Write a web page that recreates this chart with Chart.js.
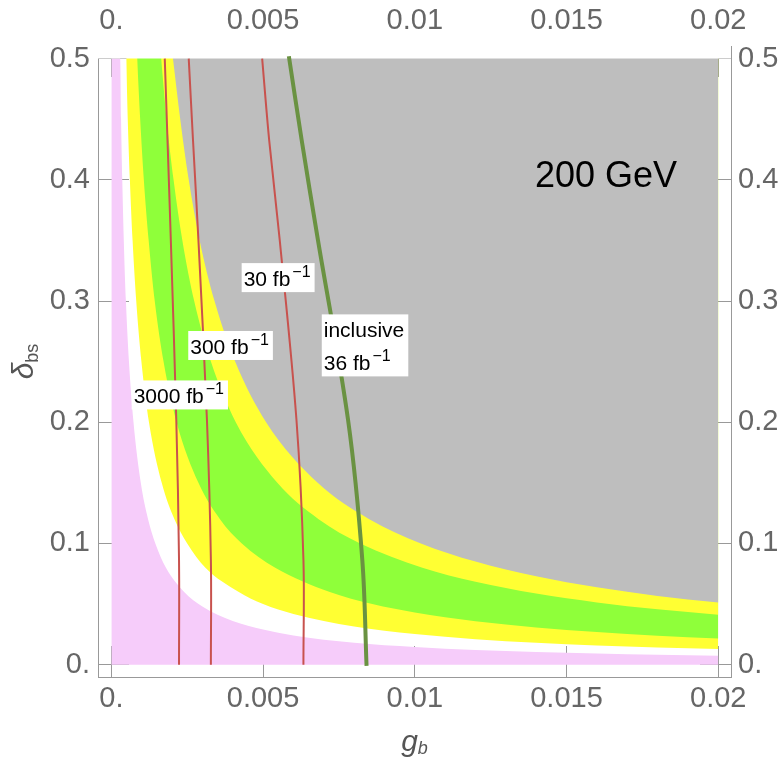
<!DOCTYPE html>
<html>
<head>
<meta charset="utf-8">
<script src="https://cdn.jsdelivr.net/npm/chart.js@4.4.1/dist/chart.umd.min.js"></script>
<style>
  html, body { margin: 0; padding: 0; background: #fff; }
  canvas { display: block; }
</style>
</head>
<body>
<canvas id="chart" width="784" height="764"></canvas>
<script>
// tick values and labels
var gTicks = [0, 0.005, 0.01, 0.015, 0.02];
var gTickLabels = ['0.', '0.005', '0.01', '0.015', '0.02'];
var dTicks = [0, 0.1, 0.2, 0.3, 0.4, 0.5];
var dTickLabels = ['0.', '0.1', '0.2', '0.3', '0.4', '0.5'];

// region edges, [g_b, delta_bs]
var pinkEdge = [[0, 0.5], [0.00029, 0.5], [0.00032, 0.45], [0.00036, 0.4], [0.00041, 0.35], [0.00048, 0.3],
  [0.00058, 0.25], [0.00073, 0.2], [0.00097, 0.15], [0.00121, 0.12], [0.00145, 0.1], [0.0018, 0.08],
  [0.0024, 0.06], [0.003, 0.048], [0.004, 0.036], [0.005, 0.029], [0.006, 0.024], [0.008, 0.018],
  [0.01, 0.0145], [0.012, 0.012], [0.014, 0.0104], [0.016, 0.0091], [0.018, 0.0081], [0.02, 0.0073]];
var yellowLowEdge = [[0.00049, 0.5], [0.00054, 0.45], [0.00061, 0.4], [0.0007, 0.35], [0.00082, 0.3],
  [0.00099, 0.25], [0.00124, 0.2], [0.00166, 0.15], [0.00208, 0.12], [0.0025, 0.1], [0.0031, 0.08],
  [0.0042, 0.06], [0.005, 0.05], [0.006, 0.0418], [0.008, 0.0314], [0.01, 0.0252], [0.012, 0.021],
  [0.014, 0.018], [0.016, 0.0158], [0.018, 0.0141], [0.02, 0.0128]];
var greenLowEdge = [[0.00085, 0.5], [0.00095, 0.45], [0.00107, 0.4], [0.00123, 0.35], [0.00143, 0.3],
  [0.00172, 0.25], [0.00215, 0.2], [0.00287, 0.15], [0.00358, 0.12], [0.0043, 0.1], [0.0054, 0.08],
  [0.0072, 0.06], [0.0086, 0.05], [0.01, 0.043], [0.012, 0.0358], [0.014, 0.0307], [0.016, 0.0269],
  [0.018, 0.0239], [0.02, 0.0216]];
var greenHighEdge = [[0.00164, 0.5], [0.00182, 0.45], [0.00205, 0.4], [0.00234, 0.35], [0.00273, 0.3],
  [0.00328, 0.25], [0.0041, 0.2], [0.00547, 0.15], [0.00683, 0.12], [0.0082, 0.1], [0.01025, 0.08],
  [0.012, 0.0683], [0.014, 0.0586], [0.016, 0.0513], [0.018, 0.0456], [0.02, 0.0411]];
var grayEdge = [[0.00203, 0.5], [0.00227, 0.45], [0.00255, 0.4], [0.00291, 0.35], [0.0034, 0.3],
  [0.00408, 0.25], [0.0051, 0.2], [0.0068, 0.15], [0.0085, 0.12], [0.0102, 0.1], [0.012, 0.085],
  [0.014, 0.0729], [0.016, 0.0638], [0.018, 0.0567], [0.02, 0.0512]];

// contour lines
var lumi3000 = [[0.00176, 0.5], [0.00185, 0.433], [0.00196, 0.35], [0.00214, 0.202], [0.00223, 0.0865], [0.00223, 0]];
var lumi300 = [[0.00255, 0.5], [0.00269, 0.433], [0.00287, 0.35], [0.00315, 0.202], [0.00328, 0.0865], [0.00328, 0]];
var lumi30 = [[0.00497, 0.5], [0.0052, 0.433], [0.00555, 0.35], [0.0061, 0.202], [0.00633, 0.0865], [0.00633, 0]];
var inclusive36 = [[0.00585, 0.502], [0.00627, 0.433], [0.00681, 0.35], [0.0078, 0.202], [0.00827, 0.0865], [0.00841, -0.001]];

var gMin = -0.00044, gMax = 0.02042;
var dMin = -0.0102, dMax = 0.5104;

// top edge of the plotted range (white above it)
var topEdge = [[gMin, 0.5], [gMax, 0.5]];

function pts(a) {
  return a.map(function (p) { return { x: p[0], y: p[1] }; });
}

var FONT = '"Liberation Sans", Arial, sans-serif';

// text boxes on the plot
var notes = [
  { g: 0.00436, d: 0.3123, lines: [['30 fb', '\u22121']] },
  { g: 0.0026, d: 0.2563, lines: [['300 fb', '\u22121']] },
  { g: 0.000735, d: 0.2155, lines: [['3000 fb', '\u22121']] },
  { g: 0.0070, d: 0.27, lines: [['inclusive', ''], ['36 fb', '\u22121']] }
];

var labelPlugin = {
  id: 'labels',
  afterDraw: function (chart) {
    var ctx = chart.ctx;
    var xs = chart.scales.x, ys = chart.scales.y;
    ctx.save();
    notes.forEach(function (n) {
      var x0 = xs.getPixelForValue(n.g);
      var y0 = ys.getPixelForValue(n.d);
      var w = 0;
      n.lines.forEach(function (l) {
        ctx.font = '21px ' + FONT;
        var w1 = ctx.measureText(l[0]).width;
        ctx.font = '16px ' + FONT;
        var w2 = l[1] ? ctx.measureText(l[1]).width + 2 : 0;
        w = Math.max(w, w1 + w2);
      });
      ctx.fillStyle = '#fff';
      ctx.fillRect(x0 - 2, y0 - 23, w + 6, (n.lines.length - 1) * 33 + 29);
      ctx.fillStyle = '#000';
      ctx.textBaseline = 'alphabetic';
      ctx.textAlign = 'left';
      n.lines.forEach(function (l, i) {
        var y = y0 + i * 33;
        ctx.font = '21px ' + FONT;
        ctx.fillText(l[0], x0, y);
        var w1 = ctx.measureText(l[0]).width;
        if (l[1]) {
          ctx.font = '16px ' + FONT;
          ctx.fillText(l[1], x0 + w1 + 2, y - 9);
        }
      });
    });

    ctx.font = '36px ' + FONT;
    ctx.fillText('200 GeV', xs.getPixelForValue(0.01396), ys.getPixelForValue(0.3942));

    // axis titles
    var ca = chart.chartArea;
    ctx.fillStyle = '#555';
    ctx.font = 'italic 30px ' + FONT;
    var gw = ctx.measureText('g').width;
    ctx.font = 'italic 18px ' + FONT;
    var bw = ctx.measureText('b').width;
    var gx = (ca.left + ca.right) / 2 - (gw + bw) / 2;
    ctx.font = 'italic 30px ' + FONT;
    ctx.fillText('g', gx, 751);
    ctx.font = 'italic 18px ' + FONT;
    ctx.fillText('b', gx + gw, 754);

    ctx.translate(33, 0);
    ctx.rotate(-Math.PI / 2);
    ctx.font = 'italic 30px ' + FONT;
    var dw = ctx.measureText('\u03b4').width;
    ctx.font = '18px ' + FONT;
    var sw = ctx.measureText('bs').width;
    var cy = (ca.top + ca.bottom) / 2;
    var start = -(cy + (dw + sw) / 2);
    ctx.font = 'italic 30px ' + FONT;
    ctx.fillText('\u03b4', start, 0);
    ctx.font = '18px ' + FONT;
    ctx.fillText('bs', start + dw, 5);
    ctx.restore();
  }
};

function axis(pos, min, max, tickVals, tickLabels, pad, size) {
  return {
    type: 'linear',
    position: pos,
    min: min,
    max: max,
    z: 1,
    afterBuildTicks: function (s) {
      s.ticks = tickVals.map(function (v) { return { value: v }; });
    },
    afterFit: function (s) {
      if (pos === 'top' || pos === 'bottom') s.height = size; else s.width = size;
      s.paddingTop = 0; s.paddingBottom = 0; s.paddingLeft = 0; s.paddingRight = 0;
    },
    ticks: {
      autoSkip: false,
      maxRotation: 0,
      padding: pad,
      color: '#666',
      font: { family: FONT, size: 29 },
      callback: function (v) { return tickLabels[tickVals.indexOf(v)]; }
    },
    grid: { drawOnChartArea: false, drawTicks: true, tickLength: -31, color: '#999', lineWidth: 1 },
    border: { display: true, color: '#999', width: 1 }
  };
}

var lineRed = 'rgb(200,82,78)';
var none = 'rgba(0,0,0,0)';

function band(edge, color, to) {
  return { data: pts(edge), showLine: true, borderWidth: 0, borderColor: none, backgroundColor: color,
    fill: { value: to }, cubicInterpolationMode: 'monotone' };
}

new Chart(document.getElementById('chart'), {
  type: 'scatter',
  data: {
    datasets: [
      { data: pts(inclusive36), showLine: true, borderColor: 'rgb(106,146,66)', borderWidth: 4, tension: 0.35, fill: false },
      { data: pts(lumi30), showLine: true, borderColor: lineRed, borderWidth: 2, tension: 0.35, fill: false },
      { data: pts(lumi300), showLine: true, borderColor: lineRed, borderWidth: 2, tension: 0.35, fill: false },
      { data: pts(lumi3000), showLine: true, borderColor: lineRed, borderWidth: 2, tension: 0.35, fill: false },
      { data: pts(topEdge), showLine: true, borderWidth: 0, borderColor: none, backgroundColor: '#fff', fill: 'end' },
      band(grayEdge, '#bebebe', dMax),
      band(greenHighEdge, '#ffff33', dMax),
      band(greenLowEdge, '#8fff3a', dMax),
      band(yellowLowEdge, '#ffff33', dMax),
      band(pinkEdge, '#f6ccfa', 0)
    ]
  },
  options: {
    responsive: false,
    animation: false,
    devicePixelRatio: 1,
    layout: { padding: 0 },
    elements: { point: { radius: 0, hoverRadius: 0 } },
    plugins: { legend: { display: false }, tooltip: { enabled: false } },
    scales: {
      x: axis('bottom', gMin, gMax, gTicks, gTickLabels, 36, 87),
      x2: axis('top', gMin, gMax, gTicks, gTickLabels, 39, 46),
      y: axis('left', dMin, dMax, dTicks, dTickLabels, 39, 98),
      y2: axis('right', dMin, dMax, dTicks, dTickLabels, 38, 53)
    }
  },
  plugins: [labelPlugin]
});
</script>
</body>
</html>
